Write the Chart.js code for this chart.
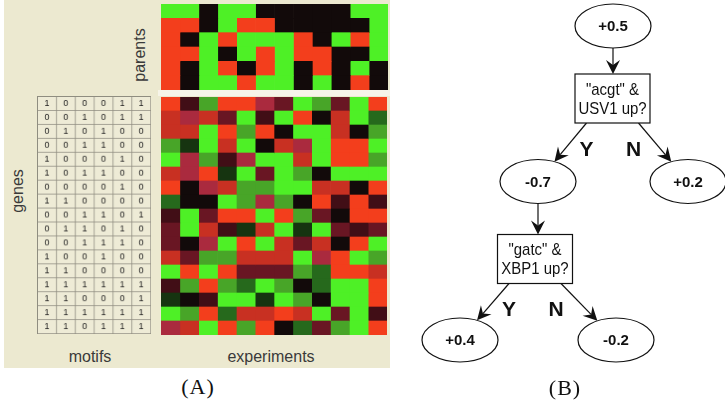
<!DOCTYPE html>
<html>
<head>
<meta charset="utf-8">
<script src="https://cdn.jsdelivr.net/npm/chart.js@4.4.1/dist/chart.umd.min.js"></script>
<style>
  html, body { margin: 0; padding: 0; background: #fff; }
  #fig { position: relative; width: 725px; height: 404px; overflow: hidden; background: #fff;
         font-family: "Liberation Sans", Arial, sans-serif; }
  #panelA { position: absolute; left: 4px; top: 0; width: 386px; height: 368px; background: #ece9d0; }
  #sep { position: absolute; left: 158px; top: 90px; width: 232px; height: 6px; background: #f6f4e8; }
  canvas { position: absolute; }
  .lbl { position: absolute; color: #3a3a3a; font-size: 16px; white-space: nowrap; transform: translate(-50%, -50%); }
  .rot { transform: translate(-50%, -50%) rotate(-90deg); }
  .cap { position: absolute; font-family: "Liberation Serif", "Times New Roman", serif; font-size: 22px;
         color: #111; white-space: nowrap; transform: translate(-50%, -50%); letter-spacing: 1px; }
  #motifs { border-top: 1px solid #8f8d80; border-left: 1px solid #8f8d80; }
</style>
</head>
<body>
<div id="fig">
  <div id="panelA"></div>
  <div id="sep"></div>
  <canvas id="parents" width="227" height="86" style="left:161px;top:4px;width:227px;height:86px"></canvas>
  <canvas id="experiments" width="226" height="238" style="left:161px;top:97px;width:226px;height:238px"></canvas>
  <canvas id="motifs" width="114" height="238" style="left:37px;top:96px;width:114px;height:238px"></canvas>
  <canvas id="tree" width="325" height="404" style="left:400px;top:0;width:325px;height:404px"></canvas>
  <div class="lbl rot" style="left:140px;top:55px">parents</div>
  <div class="lbl rot" style="left:18px;top:191px">genes</div>
  <div class="lbl" style="left:90px;top:357px">motifs</div>
  <div class="lbl" style="left:271px;top:357px">experiments</div>
  <div class="cap" style="left:198px;top:387px">(A)</div>
  <div class="cap" style="left:565px;top:388px">(B)</div>
</div>
<script>
// ---- data: panel A ----
// expression levels: +3 bright red ... 0 black ... -3 bright green
const parentRows = ['p1', 'p2', 'p3', 'p4', 'p5', 'p6'];
const parentValues = [
  [-3, -3, 0, -3, -3, 0, 0, 0, 0, 0, -3, -3],
  [3, 3, 0, -3, 3, 3, 0, 0, 0, 0, 0, -3],
  [3, 0, -3, 3, -3, -3, -3, 3, 0, -3, 3, -3],
  [3, 3, -3, 0, -3, 3, -3, 3, 3, 0, 0, -3],
  [3, 0, -3, 3, 0, 3, -3, 0, 3, 0, -3, 0],
  [3, 0, -3, -3, 3, -3, -3, 0, -3, 0, 3, 0]
];

const geneRows = ['g1', 'g2', 'g3', 'g4', 'g5', 'g6', 'g7', 'g8', 'g9',
                  'g10', 'g11', 'g12', 'g13', 'g14', 'g15', 'g16', 'g17'];
const expValues = [
  [3, 0.5, -2, 3, 3, 1.5, 1, -3, -2, 1, -3, 3],
  [2, 1.5, 2, 1, -3, 0.5, -3, 3, 0, 2, -3, -1],
  [2, 2, -3, 3, -2, 3, 0, -3, -3, 2, 0, -2],
  [-2, -0.5, -3, 2, -3, 0, 2, 1.5, -3, 3, 3, -3],
  [-3, 1.5, -2, 0.5, 1.5, -3, -3, 2, -3, 3, 3, -2],
  [2, 1.5, 3, -0.5, -3, 1, -3, -2, 0, -3, -3, -3],
  [3, 0, 1.5, 2, -2, -2, -3, -3, 2, 2, 0, 3],
  [-1, 0, 0, -3, -2, 1.5, -2, 0, 3, 0.5, 3, 0.5],
  [0.5, -3, 1, 3, 3, -3, 3, -2, 1, 0, 3, 3],
  [1, -3, 2, 0.5, -0.5, 2, -3, -0.5, -3, 1, 0.5, 1],
  [1, 0, 1.5, -3, 3, -3, 2, 1, 2, 0, 3, -3],
  [2, 1, -2, -2, 2, 2, 2, -3, 1.5, 3, -3, -2],
  [-3, 3, -3, 3, 1, 1, 1, -2, -1, 3, 3, 2],
  [0.5, -2, 3, -2, -1, -3, -2, 0, -1, -3, -3, 3],
  [-0.5, 0, 0.5, -3, -3, -0.5, -3, -2, 0, -3, -3, 3],
  [-3, -2, 3, -1, 2, 2, 3, 2, -3, 1, -3, 0.5],
  [1.5, 2, -3, 3, -2, 3, 0, -1, 1, -2, -3, 3]
];

const motifValues = [
  [1, 0, 0, 0, 1, 1],
  [0, 0, 1, 0, 1, 1],
  [0, 1, 0, 1, 0, 0],
  [0, 0, 1, 1, 0, 0],
  [1, 0, 0, 0, 1, 0],
  [1, 0, 1, 1, 0, 0],
  [0, 0, 0, 0, 1, 0],
  [1, 1, 0, 0, 0, 0],
  [0, 0, 1, 1, 0, 1],
  [0, 1, 1, 0, 1, 0],
  [0, 0, 1, 1, 1, 0],
  [1, 0, 0, 1, 0, 0],
  [1, 1, 0, 0, 0, 0],
  [1, 1, 1, 1, 1, 1],
  [1, 1, 0, 0, 0, 1],
  [1, 1, 1, 1, 1, 1],
  [1, 1, 0, 1, 1, 1]
];

// ---- data: panel B (regression tree) ----
const nodeLabels = ['+0.5', '"acgt" &\nUSV1 up?', '-0.7', '+0.2', '"gatc" &\nXBP1 up?', '+0.4', '-0.2'];
const nodeKinds = ['value', 'test', 'value', 'value', 'test', 'value', 'value'];
const nodeX = [8.52, 8.5, 5.52, 11.52, 5.4, 2.4, 8.64];
const nodeY = [1.04, 3.94, 7.26, 7.26, 10.36, 13.6, 13.6];
const edgeFrom = [0, 1, 1, 2, 4, 4];
const edgeTo = [1, 2, 3, 4, 5, 6];
const edgeLabels = ['', 'Y', 'N', '', 'Y', 'N'];

// ---- colours ----
const colorStops = [
  [-3, [78, 240, 38]], [-2, [72, 165, 40]], [-1, [38, 105, 28]], [-0.5, [22, 52, 16]],
  [0, [18, 10, 10]], [0.5, [65, 14, 22]], [1, [105, 22, 35]], [1.5, [170, 42, 62]],
  [2, [200, 48, 34]], [3, [243, 62, 28]]
];
function heatColor(v) {
  for (let k = 1; k < colorStops.length; k++) {
    const [v0, c0] = colorStops[k - 1], [v1, c1] = colorStops[k];
    if (v <= v1) {
      const t = (v - v0) / (v1 - v0);
      const c = c0.map((a, i) => Math.round(a + (c1[i] - a) * t));
      return `rgb(${c[0]},${c[1]},${c[2]})`;
    }
  }
  const c = colorStops[colorStops.length - 1][1];
  return `rgb(${c[0]},${c[1]},${c[2]})`;
}

const baseOptions = (nCols) => ({
  indexAxis: 'y',
  responsive: false,
  animation: false,
  devicePixelRatio: 1,
  layout: { padding: 0 },
  plugins: { legend: { display: false }, tooltip: { enabled: false } },
  scales: {
    x: { stacked: true, min: 0, max: nCols, display: false },
    y: { stacked: true, display: false }
  }
});

function heatmap(id, rows, values) {
  const nCols = values[0].length;
  const datasets = [];
  for (let j = 0; j < nCols; j++) {
    datasets.push({
      data: rows.map(() => 1),
      backgroundColor: values.map(r => heatColor(r[j])),
      borderWidth: 0,
      barPercentage: 1,
      categoryPercentage: 1
    });
  }
  return new Chart(document.getElementById(id), {
    type: 'bar',
    data: { labels: rows, datasets },
    options: baseOptions(nCols)
  });
}

heatmap('parents', parentRows, parentValues);
heatmap('experiments', geneRows, expValues);

// motif table: one stacked cell per motif, digits written in the middle
const motifText = {
  id: 'motifText',
  afterDatasetsDraw(chart) {
    const ctx = chart.ctx;
    ctx.save();
    ctx.font = '9px "Liberation Sans", Arial, sans-serif';
    ctx.fillStyle = '#222';
    ctx.textAlign = 'center';
    ctx.textBaseline = 'middle';
    chart.data.datasets.forEach((ds, d) => {
      chart.getDatasetMeta(d).data.forEach((bar, i) => {
        const p = bar.getProps(['x', 'y', 'base'], true);
        ctx.fillText(String(motifValues[i][d]), (p.x + p.base) / 2 - 0.5, p.y);
      });
    });
    ctx.restore();
  }
};
new Chart(document.getElementById('motifs'), {
  type: 'bar',
  data: {
    labels: geneRows,
    datasets: motifValues[0].map(() => ({
      data: geneRows.map(() => 1),
      backgroundColor: '#eeebd6',
      borderColor: '#8f8d80',
      borderWidth: { top: 0, left: 0, right: 1, bottom: 1 },
      borderSkipped: false,
      barPercentage: 1,
      categoryPercentage: 1
    }))
  },
  options: baseOptions(motifValues[0].length),
  plugins: [motifText]
});

// tree: nodes are points on a scatter chart, shapes drawn at their scale positions
const ELL_RX = 38, ELL_RY = 22, BOX_W = 75, BOX_H = 49;
function arrow(ctx, x0, y0, x1, y1) {
  const a = Math.atan2(y1 - y0, x1 - x0);
  const L = 14, W = 7, N = 9;
  const cos = Math.cos(a), sin = Math.sin(a);
  ctx.beginPath();
  ctx.moveTo(x0, y0);
  ctx.lineTo(x1 - N * cos, y1 - N * sin);
  ctx.stroke();
  ctx.beginPath();
  ctx.moveTo(x1, y1);
  ctx.lineTo(x1 - L * cos - W * sin, y1 - L * sin + W * cos);
  ctx.lineTo(x1 - N * cos, y1 - N * sin);
  ctx.lineTo(x1 - L * cos + W * sin, y1 - L * sin - W * cos);
  ctx.closePath();
  ctx.fill();
}
const treeDraw = {
  id: 'treeDraw',
  afterDatasetsDraw(chart) {
    const ctx = chart.ctx, sx = chart.scales.x, sy = chart.scales.y;
    const px = i => sx.getPixelForValue(nodeX[i]);
    const py = i => sy.getPixelForValue(nodeY[i]);
    ctx.save();
    ctx.strokeStyle = '#111';
    ctx.fillStyle = '#111';
    ctx.lineWidth = 1.2;

    edgeFrom.forEach((p, e) => {
      const c = edgeTo[e];
      if (nodeKinds[p] === 'value') {
        arrow(ctx, px(p), py(p) + ELL_RY, px(p), py(c) - BOX_H / 2);
      } else {
        const side = Math.sign(px(c) - px(p));
        const x0 = px(p) + side * 26, y0 = py(p) + BOX_H / 2;
        const dx = x0 - px(c), dy = y0 - py(c);
        const t = 1 / Math.sqrt((dx / ELL_RX) ** 2 + (dy / ELL_RY) ** 2);
        arrow(ctx, x0, y0, px(c) + dx * t, py(c) + dy * t);
        if (edgeLabels[e]) {
          ctx.font = 'bold 21px "Liberation Sans", Arial, sans-serif';
          ctx.textAlign = 'center';
          ctx.textBaseline = 'middle';
          ctx.fillText(edgeLabels[e], px(p) + (side < 0 ? -26 : 21), py(p) + BOX_H / 2 + 27);
        }
      }
    });

    nodeLabels.forEach((lab, i) => {
      const x = px(i), y = py(i);
      ctx.lineWidth = 1.2;
      ctx.textAlign = 'center';
      ctx.textBaseline = 'middle';
      if (nodeKinds[i] === 'value') {
        ctx.beginPath();
        ctx.ellipse(x, y, ELL_RX, ELL_RY, 0, 0, Math.PI * 2);
        ctx.fillStyle = '#fff';
        ctx.fill();
        ctx.stroke();
        ctx.fillStyle = '#111';
        ctx.font = 'bold 15px "Liberation Sans", Arial, sans-serif';
        ctx.fillText(lab, x, y + 1);
      } else {
        ctx.fillStyle = '#fff';
        ctx.fillRect(x - BOX_W / 2, y - BOX_H / 2, BOX_W, BOX_H);
        ctx.strokeRect(x - BOX_W / 2, y - BOX_H / 2, BOX_W, BOX_H);
        ctx.fillStyle = '#111';
        ctx.font = '17px "Liberation Sans", Arial, sans-serif';
        const lines = lab.split('\n');
        lines.forEach((ln, k) => {
          // condensed lettering: squeeze horizontally around the box centre
          ctx.save();
          ctx.translate(x, y + (k - (lines.length - 1) / 2) * 19 + 1);
          ctx.scale(0.88, 1);
          ctx.fillText(ln, 0, 0);
          ctx.restore();
        });
      }
    });
    ctx.restore();
  }
};
new Chart(document.getElementById('tree'), {
  type: 'scatter',
  data: {
    datasets: [{
      data: nodeX.map((x, i) => ({ x, y: nodeY[i] })),
      pointRadius: 0
    }]
  },
  options: {
    responsive: false,
    animation: false,
    devicePixelRatio: 1,
    layout: { padding: 0 },
    plugins: { legend: { display: false }, tooltip: { enabled: false } },
    scales: {
      x: { type: 'linear', min: 0, max: 13, display: false },
      y: { type: 'linear', min: 0, max: 16.16, reverse: true, display: false }
    }
  },
  plugins: [treeDraw]
});
</script>
</body>
</html>
